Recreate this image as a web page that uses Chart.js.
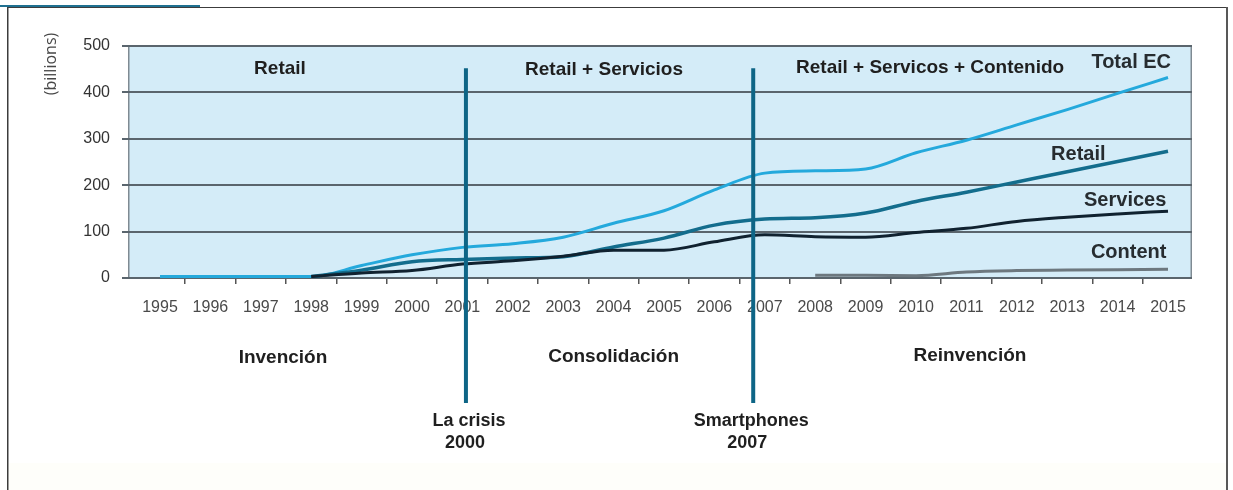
<!DOCTYPE html>
<html>
<head>
<meta charset="utf-8">
<title>Comercio electrónico 1995–2015</title>
<script src="https://cdn.jsdelivr.net/npm/chart.js@4/dist/chart.umd.min.js"></script>
<style>
  html, body { margin: 0; padding: 0; background: #ffffff; }
  canvas { display: block; }
</style>
</head>
<body>
<canvas id="chart" width="1233" height="490"></canvas>
<script>
// ---- data (billions) ----
const years    = [1995, 1996, 1997, 1998, 1999, 2000, 2001, 2002, 2003, 2004, 2005, 2006, 2007, 2008, 2009, 2010, 2011, 2012, 2013, 2014, 2015];
const totalEC  = [3, 3, 3, 3, 27, 50, 66, 74, 88, 118, 145, 190, 226, 231, 235, 270, 297, 330, 363, 398, 432];
const retail   = [null, null, null, 3, 17, 35, 40, 43, 46, 67, 86, 114, 127, 130, 140, 165, 185, 207, 229, 251, 273];
const services = [null, null, null, 3, 11, 16, 30, 37, 47, 60, 60, 78, 93, 89, 88, 98, 107, 122, 131, 138, 144];
const content  = [null, null, null, null, null, null, null, null, null, null, null, null, null, 6, 6, 5, 13, 16, 17, 18, 19];

const yTicks      = [0, 100, 200, 300, 400, 500];
const seriesNames = ['Total EC', 'Retail', 'Services', 'Content'];
const phases      = ['Retail', 'Retail + Servicios', 'Retail + Servicos + Contenido'];
const eras        = ['Invención', 'Consolidación', 'Reinvención'];
const milestones  = [['La crisis', '2000'], ['Smartphones', '2007']];
const yTitle      = '(billions)';

// ---- styling ----
const FONT = "'Liberation Sans', Arial, sans-serif";
const COLORS = {
  total: '#24a9dc',
  retail: '#136d8d',
  services: '#102230',
  content: '#6d787f',
  marker: '#0e6586',
  grid: '#5a656d',
  plot: '#d4ecf8',
  text: '#1f1f1f'
};

const toPoints = arr => years.map((yr, i) => ({ x: yr, y: arr[i] }));

// where the notes sit: x in years, y in billions (inside the plot) or pixels (below it)
const phasePos     = [[1997.38, 450], [2003.81, 448], [2010.28, 453]];
const seriesPos    = [[2014.27, 465], [2013.22, 267], [2014.15, 168], [2014.22, 54]];
const eraPos       = [[1997.44, 358], [2004.0, 357], [2011.07, 356]];
const markerX      = [2001.07, 2006.77];

const decor = {
  id: 'decor',
  beforeDraw(chart) {
    const { ctx, chartArea: a } = chart;
    ctx.save();
    // page frame
    ctx.fillStyle = '#fefefa';
    ctx.fillRect(8, 463, 1219, 27);
    ctx.strokeStyle = '#3c3c3c';
    ctx.lineWidth = 1;
    ctx.beginPath();
    ctx.moveTo(8, 7.5); ctx.lineTo(1228, 7.5);
    ctx.stroke();
    ctx.lineWidth = 1.5;
    ctx.beginPath();
    ctx.moveTo(7.75, 7); ctx.lineTo(7.75, 490);
    ctx.stroke();
    ctx.strokeStyle = '#585858';
    ctx.lineWidth = 2;
    ctx.beginPath();
    ctx.moveTo(1227, 7); ctx.lineTo(1227, 490);
    ctx.stroke();
    ctx.strokeStyle = '#1f7090';
    ctx.lineWidth = 2;
    ctx.beginPath();
    ctx.moveTo(0, 6); ctx.lineTo(200, 6);
    ctx.stroke();
    // plot panel
    ctx.fillStyle = COLORS.plot;
    ctx.fillRect(a.left, a.top, a.right - a.left, a.bottom - a.top);
    ctx.strokeStyle = '#7f8a92';
    ctx.lineWidth = 1.5;
    ctx.beginPath();
    ctx.moveTo(a.left + 0.75, a.top); ctx.lineTo(a.left + 0.75, a.bottom);
    ctx.moveTo(a.right - 0.75, a.top); ctx.lineTo(a.right - 0.75, a.bottom);
    ctx.stroke();
    ctx.restore();
  },
  afterDatasetsDraw(chart) {
    const { ctx, scales: { x, y } } = chart;
    ctx.save();
    ctx.strokeStyle = COLORS.marker;
    ctx.lineWidth = 4;
    markerX.forEach(v => {
      const px = x.getPixelForValue(v);
      ctx.beginPath();
      ctx.moveTo(px, y.getPixelForValue(452));
      ctx.lineTo(px, 403);
      ctx.stroke();
    });
    ctx.restore();
  },
  afterDraw(chart) {
    const { ctx, scales: { x, y } } = chart;
    ctx.save();
    ctx.fillStyle = COLORS.text;
    ctx.textAlign = 'center';
    ctx.textBaseline = 'middle';

    ctx.font = `bold 19px ${FONT}`;
    phases.forEach((t, i) => ctx.fillText(t, x.getPixelForValue(phasePos[i][0]), y.getPixelForValue(phasePos[i][1])));
    eras.forEach((t, i) => ctx.fillText(t, x.getPixelForValue(eraPos[i][0]), eraPos[i][1]));

    ctx.font = `bold 20px ${FONT}`;
    ctx.fillStyle = '#262c30';
    seriesNames.forEach((t, i) => ctx.fillText(t, x.getPixelForValue(seriesPos[i][0]), y.getPixelForValue(seriesPos[i][1])));

    ctx.fillStyle = COLORS.text;
    ctx.font = `bold 18px ${FONT}`;
    milestones.forEach((lines, i) => {
      const px = x.getPixelForValue(markerX[i]);
      ctx.fillText(lines[0], px + (i === 0 ? 3 : -2), 421);
      ctx.fillText(lines[1], px - (i === 0 ? 1 : 6), 443);
    });

    // rotated unit label beside the top of the value axis
    ctx.translate(51, 64);
    ctx.rotate(-Math.PI / 2);
    ctx.font = `16px 'Open Sans', ${FONT}`;
    ctx.fillStyle = '#474747';
    ctx.fillText(yTitle, 0, 0);
    ctx.restore();
  }
};

const lineStyle = (color, width, order) => ({
  borderColor: color,
  backgroundColor: color,
  borderWidth: width,
  pointRadius: 0,
  pointHoverRadius: 0,
  fill: false,
  tension: 0.35,
  cubicInterpolationMode: 'monotone',
  spanGaps: false,
  order
});

new Chart(document.getElementById('chart'), {
  type: 'line',
  data: {
    datasets: [
      { label: seriesNames[0], data: toPoints(totalEC), ...lineStyle(COLORS.total, 3, 4) },
      { label: seriesNames[1], data: toPoints(retail), ...lineStyle(COLORS.retail, 3.5, 3) },
      { label: seriesNames[2], data: toPoints(services), ...lineStyle(COLORS.services, 3, 2) },
      { label: seriesNames[3], data: toPoints(content), ...lineStyle(COLORS.content, 3, 1) }
    ]
  },
  options: {
    responsive: false,
    devicePixelRatio: 1,
    animation: false,
    events: [],
    layout: { padding: { top: 46, right: 41, left: 0, bottom: 0 } },
    plugins: {
      legend: { display: false },
      tooltip: { enabled: false },
      title: { display: false }
    },
    scales: {
      x: {
        type: 'linear',
        min: 1994.365,
        max: 2015.476,
        afterBuildTicks: s => { s.ticks = years.map(v => ({ value: v })); },
        afterFit: s => { s.height = 212; },
        border: { display: false },
        grid: {
          offset: true,
          drawOnChartArea: false,
          drawTicks: true,
          tickLength: 6,
          lineWidth: 1.5,
          color: '#555',
          tickColor: c => (c.index === 0 ? 'rgba(0,0,0,0)' : '#555')
        },
        ticks: {
          autoSkip: false,
          maxRotation: 0,
          padding: 14,
          color: '#4a4a4a',
          font: { family: FONT, size: 16 },
          callback: v => String(v)
        }
      },
      y: {
        min: yTicks[0],
        max: yTicks[yTicks.length - 1],
        afterBuildTicks: s => { s.ticks = yTicks.map(v => ({ value: v })); },
        afterFit: s => { s.width = 128; },
        border: { display: false },
        grid: {
          color: COLORS.grid,
          lineWidth: 2,
          drawTicks: true,
          tickLength: 6,
          tickColor: COLORS.grid
        },
        ticks: {
          padding: 12,
          color: '#333',
          font: { family: FONT, size: 16 }
        }
      }
    }
  },
  plugins: [decor]
});
</script>
</body>
</html>
